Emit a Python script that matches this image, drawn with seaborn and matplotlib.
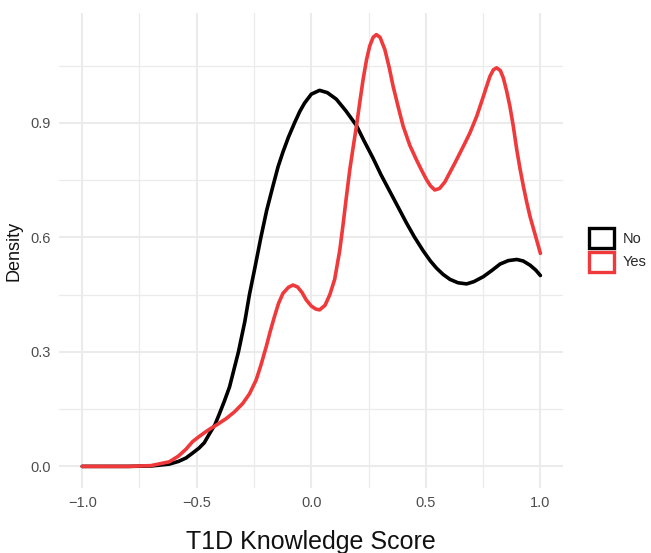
import numpy as np
import pandas as pd
import matplotlib.pyplot as plt
import seaborn as sns
from matplotlib.patches import Patch

# density curves
no_x = [-1.0, -0.9, -0.8, -0.7, -0.62, -0.58, -0.547, -0.518, -0.49, -0.467, -0.445, -0.42,
        -0.401, -0.38, -0.357, -0.318, -0.29, -0.27, -0.248, -0.22, -0.195, -0.168, -0.145,
        -0.124, -0.1, -0.073, -0.05, -0.029, 0.0, 0.036, 0.07, 0.109, 0.15, 0.197,
        0.23, 0.269, 0.305, 0.343, 0.38, 0.416, 0.45, 0.488, 0.52, 0.547, 0.575, 0.605,
        0.64, 0.678, 0.71, 0.751, 0.79, 0.824, 0.86, 0.897, 0.925, 0.955, 0.98, 1.0]
no_y = [0.0, 0.0, 0.0, 0.001, 0.006, 0.013, 0.022, 0.035, 0.048, 0.062, 0.085, 0.11,
        0.138, 0.17, 0.208, 0.3, 0.38, 0.45, 0.515, 0.6, 0.67, 0.733, 0.785,
        0.823, 0.862, 0.9, 0.93, 0.952, 0.975, 0.985, 0.979, 0.962, 0.932, 0.893,
        0.853, 0.808, 0.763, 0.72, 0.678, 0.637, 0.601, 0.565, 0.538, 0.519, 0.503, 0.49,
        0.481, 0.478, 0.484, 0.497, 0.514, 0.53, 0.539, 0.542, 0.538, 0.527, 0.514, 0.5]

yes_x = [-1.0, -0.9, -0.8, -0.7, -0.62, -0.58, -0.547, -0.518, -0.49, -0.467, -0.445, -0.41,
         -0.372, -0.335, -0.299, -0.27, -0.241, -0.22, -0.197, -0.18, -0.161, -0.143, -0.124,
         -0.1, -0.08, -0.06, -0.04, -0.022, 0.0, 0.02, 0.036, 0.06, 0.081, 0.102, 0.124,
         0.138, 0.153, 0.168, 0.183, 0.197, 0.212, 0.226, 0.241, 0.255, 0.27, 0.284, 0.3,
         0.321, 0.34, 0.357, 0.38, 0.401, 0.43, 0.459, 0.482, 0.503, 0.52, 0.539, 0.56,
         0.583, 0.605, 0.628, 0.649, 0.67, 0.692, 0.722, 0.751, 0.766, 0.78, 0.795, 0.809,
         0.825, 0.838, 0.852, 0.867, 0.882, 0.897, 0.911, 0.926, 0.94, 0.955, 0.978, 1.0]
yes_y = [0.0, 0.0, 0.0, 0.002, 0.012, 0.027, 0.045, 0.065, 0.078, 0.088, 0.097, 0.11,
         0.125, 0.143, 0.165, 0.19, 0.226, 0.265, 0.313, 0.352, 0.392, 0.427, 0.453,
         0.469, 0.475, 0.47, 0.455, 0.436, 0.42, 0.412, 0.41, 0.422, 0.45, 0.49, 0.565,
         0.63, 0.705, 0.777, 0.837, 0.891, 0.955, 1.013, 1.065, 1.101, 1.124, 1.131, 1.124,
         1.092, 1.045, 0.996, 0.94, 0.891, 0.841, 0.803, 0.775, 0.751, 0.735, 0.724, 0.728,
         0.745, 0.77, 0.796, 0.821, 0.846, 0.873, 0.917, 0.969, 0.997, 1.022, 1.039, 1.044,
         1.037, 1.018, 0.985, 0.943, 0.89, 0.829, 0.78, 0.733, 0.693, 0.654, 0.605, 0.558]

groups = ['No', 'Yes']
colors = {'No': '#000000', 'Yes': '#F0393B'}
x_ticks = [-1.0, -0.5, 0.0, 0.5, 1.0]
y_ticks = [0.0, 0.3, 0.6, 0.9]

df = pd.concat([
    pd.DataFrame({'score': no_x, 'density': no_y, 'group': 'No'}),
    pd.DataFrame({'score': yes_x, 'density': yes_y, 'group': 'Yes'}),
], ignore_index=True)

sns.set_style('white')
plt.rcParams['font.family'] = ['Liberation Sans', 'DejaVu Sans']

fig = plt.figure(figsize=(6.51, 5.53), dpi=100)
ax = fig.add_axes([59.3 / 651, 1 - 488 / 553, 504 / 651, 475 / 553])

# gridlines, ggplot minimal style
for v in [-0.75, -0.25, 0.25, 0.75]:
    ax.axvline(v, color='#EBEBEB', lw=0.9, zorder=0)
for v in [0.15, 0.45, 0.75, 1.05]:
    ax.axhline(v, color='#EBEBEB', lw=0.9, zorder=0)
for v in x_ticks:
    ax.axvline(v, color='#EBEBEB', lw=1.5, zorder=0)
for v in y_ticks:
    ax.axhline(v, color='#EBEBEB', lw=1.5, zorder=0)

sns.lineplot(data=df, x='score', y='density', hue='group', palette=colors, hue_order=groups,
             linewidth=2.6, sort=False, estimator=None, legend=False, ax=ax)
for line in ax.lines[-2:]:
    line.set_solid_joinstyle('round')

ax.set_xlim(-1.1, 1.1)
ax.set_ylim(-0.0566, 1.1876)
ax.set_xticks(x_ticks)
ax.set_xticklabels(['−1.0', '−0.5', '0.0', '0.5', '1.0'])
ax.set_yticks(y_ticks)
ax.set_yticklabels(['0.0', '0.3', '0.6', '0.9'])
ax.tick_params(length=0, labelsize=10.5, labelcolor='#4D4D4D', pad=6)
for s in ax.spines.values():
    s.set_visible(False)
ax.set_xlabel('T1D Knowledge Score', fontsize=18, labelpad=14, color='#111111')
ax.set_ylabel('Density', fontsize=13, labelpad=6, color='#111111')

handles = [Patch(facecolor='white', edgecolor=colors[g], linewidth=2.4, label=g) for g in groups]
fig.legend(handles=handles, loc='center left', bbox_to_anchor=(589 / 651, 1 - 250 / 553),
           frameon=False, fontsize=10.5, handlelength=1.7, handleheight=1.7,
           handletextpad=0.6, labelspacing=0.25, borderpad=0, borderaxespad=0)

fig.savefig('out.png', dpi=100)
